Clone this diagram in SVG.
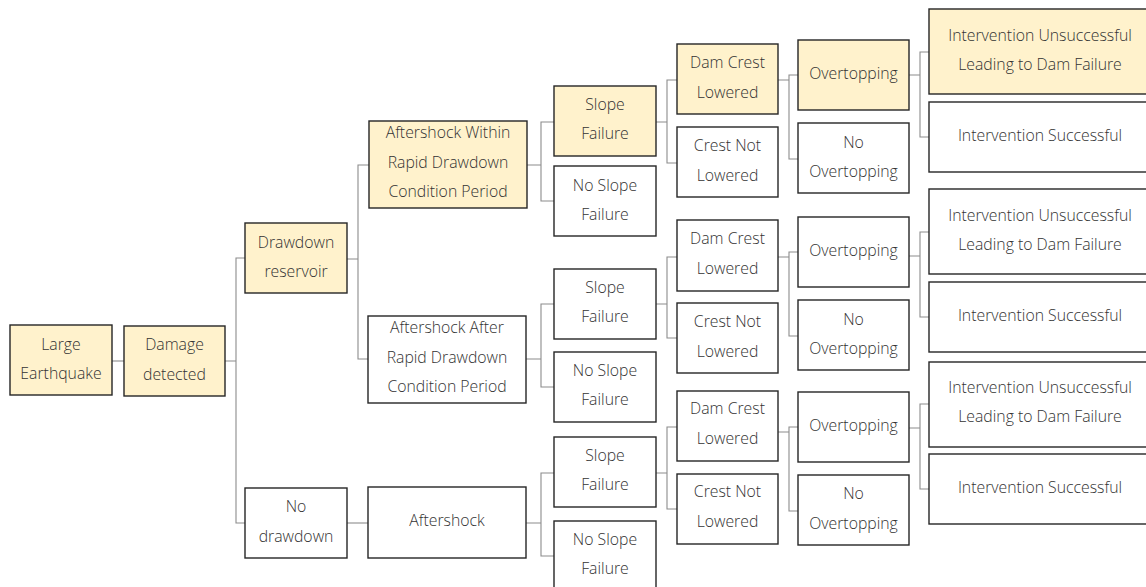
<svg xmlns="http://www.w3.org/2000/svg" width="1146" height="587" viewBox="0 0 1146 587">
<style>
.box{stroke:#262626;stroke-width:1.4}
.y{fill:#FFF2CC}
.w{fill:#FFFFFF}
text{font-family:"Open Sans","Noto Sans","Liberation Sans",sans-serif;font-size:15.8px;font-weight:300;fill:#333333;text-anchor:middle}
.c path{fill:none;stroke:#8c8c8c;stroke-width:1.1}
</style>
<rect width="1146" height="587" fill="#FFFFFF"/>
<g class="c" id="connectors">
<path d="M112,361H124"/>
<path d="M225,361H236M245,258H236V523H245"/>
<path d="M347,259H358M369,165H358V359H368"/>
<path d="M347,523H368"/>
<path d="M527,165H541M554,122H541V201H554"/>
<path d="M526,359H541M554,304H541V387H554"/>
<path d="M526,523H541M554,473H541V556H554"/>
<path d="M656,122H667M677,80H667V163H677"/>
<path d="M656,304H667M677,257H667V338H677"/>
<path d="M656,473H667M677,427H667V509H677"/>
<path d="M778,80H789M798,75H789V159H798"/>
<path d="M778,257H789M798,252H789V336H798"/>
<path d="M778,432H789M798,427H789V511H798"/>
<path d="M909,75H920M929,52H920V137H929"/>
<path d="M909,256H920M929,232H920V317H929"/>
<path d="M909,428H920M929,404H920V489H929"/>
</g>
<g id="n-large-earthquake"><rect class="box y" x="10" y="325" width="102" height="70"/><text x="61" y="350">Large</text><text x="61" y="379">Earthquake</text></g>
<g id="n-damage-detected"><rect class="box y" x="124" y="326" width="101" height="70"/><text x="174.5" y="350">Damage</text><text x="174.5" y="380">detected</text></g>
<g id="n-drawdown-reservoir"><rect class="box y" x="245" y="223" width="102" height="70"/><text x="296" y="248">Drawdown</text><text x="296" y="277">reservoir</text></g>
<g id="n-no-drawdown"><rect class="box w" x="245" y="488" width="102" height="70"/><text x="296" y="512">No</text><text x="296" y="542">drawdown</text></g>
<g id="n-aftershock-within"><rect class="box y" x="369" y="121" width="158" height="87"/><text x="448" y="138">Aftershock Within</text><text x="448" y="168">Rapid Drawdown</text><text x="448" y="197">Condition Period</text></g>
<g id="n-aftershock-after"><rect class="box w" x="368" y="316" width="158" height="87"/><text x="447" y="333">Aftershock After</text><text x="447" y="363">Rapid Drawdown</text><text x="447" y="392">Condition Period</text></g>
<g id="n-aftershock"><rect class="box w" x="368" y="487" width="158" height="71"/><text x="447" y="526">Aftershock</text></g>
<g id="n-slope-failure-1"><rect class="box y" x="554" y="86" width="102" height="70"/><text x="605" y="110">Slope</text><text x="605" y="139">Failure</text></g>
<g id="n-no-slope-failure-1"><rect class="box w" x="554" y="166" width="102" height="70"/><text x="605" y="191">No Slope</text><text x="605" y="220">Failure</text></g>
<g id="n-slope-failure-2"><rect class="box w" x="554" y="269" width="102" height="70"/><text x="605" y="293">Slope</text><text x="605" y="322">Failure</text></g>
<g id="n-no-slope-failure-2"><rect class="box w" x="554" y="352" width="102" height="70"/><text x="605" y="376">No Slope</text><text x="605" y="405">Failure</text></g>
<g id="n-slope-failure-3"><rect class="box w" x="554" y="437" width="102" height="70"/><text x="605" y="461">Slope</text><text x="605" y="490">Failure</text></g>
<g id="n-no-slope-failure-3"><rect class="box w" x="554" y="521" width="102" height="70"/><text x="605" y="545">No Slope</text><text x="605" y="574">Failure</text></g>
<g id="n-dam-crest-lowered-1"><rect class="box y" x="677" y="44" width="101" height="70"/><text x="727.5" y="68">Dam Crest</text><text x="727.5" y="98">Lowered</text></g>
<g id="n-crest-not-lowered-1"><rect class="box w" x="677" y="127" width="101" height="70"/><text x="727.5" y="151">Crest Not</text><text x="727.5" y="181">Lowered</text></g>
<g id="n-dam-crest-lowered-2"><rect class="box w" x="677" y="220" width="101" height="71"/><text x="727.5" y="244">Dam Crest</text><text x="727.5" y="274">Lowered</text></g>
<g id="n-crest-not-lowered-2"><rect class="box w" x="677" y="303" width="101" height="70"/><text x="727.5" y="327">Crest Not</text><text x="727.5" y="357">Lowered</text></g>
<g id="n-dam-crest-lowered-3"><rect class="box w" x="677" y="391" width="101" height="70"/><text x="727.5" y="414">Dam Crest</text><text x="727.5" y="444">Lowered</text></g>
<g id="n-crest-not-lowered-3"><rect class="box w" x="677" y="474" width="101" height="70"/><text x="727.5" y="497">Crest Not</text><text x="727.5" y="527">Lowered</text></g>
<g id="n-overtopping-1"><rect class="box y" x="798" y="40" width="111" height="70"/><text x="853.5" y="79">Overtopping</text></g>
<g id="n-no-overtopping-1"><rect class="box w" x="798" y="123" width="111" height="70"/><text x="853.5" y="148">No</text><text x="853.5" y="177">Overtopping</text></g>
<g id="n-overtopping-2"><rect class="box w" x="798" y="217" width="111" height="70"/><text x="853.5" y="256">Overtopping</text></g>
<g id="n-no-overtopping-2"><rect class="box w" x="798" y="300" width="111" height="70"/><text x="853.5" y="325">No</text><text x="853.5" y="354">Overtopping</text></g>
<g id="n-overtopping-3"><rect class="box w" x="798" y="392" width="111" height="70"/><text x="853.5" y="431">Overtopping</text></g>
<g id="n-no-overtopping-3"><rect class="box w" x="798" y="475" width="111" height="70"/><text x="853.5" y="499">No</text><text x="853.5" y="529">Overtopping</text></g>
<g id="n-intervention-unsuccessful-1"><rect class="box y" x="929" y="9" width="222" height="85"/><text x="1040" y="41">Intervention Unsuccessful</text><text x="1040" y="70">Leading to Dam Failure</text></g>
<g id="n-intervention-successful-1"><rect class="box w" x="929" y="102" width="222" height="70"/><text x="1040" y="141">Intervention Successful</text></g>
<g id="n-intervention-unsuccessful-2"><rect class="box w" x="929" y="189" width="222" height="85"/><text x="1040" y="221">Intervention Unsuccessful</text><text x="1040" y="250">Leading to Dam Failure</text></g>
<g id="n-intervention-successful-2"><rect class="box w" x="929" y="282" width="222" height="70"/><text x="1040" y="321">Intervention Successful</text></g>
<g id="n-intervention-unsuccessful-3"><rect class="box w" x="929" y="362" width="222" height="85"/><text x="1040" y="393">Intervention Unsuccessful</text><text x="1040" y="422">Leading to Dam Failure</text></g>
<g id="n-intervention-successful-3"><rect class="box w" x="929" y="454" width="222" height="70"/><text x="1040" y="493">Intervention Successful</text></g>
</svg>
